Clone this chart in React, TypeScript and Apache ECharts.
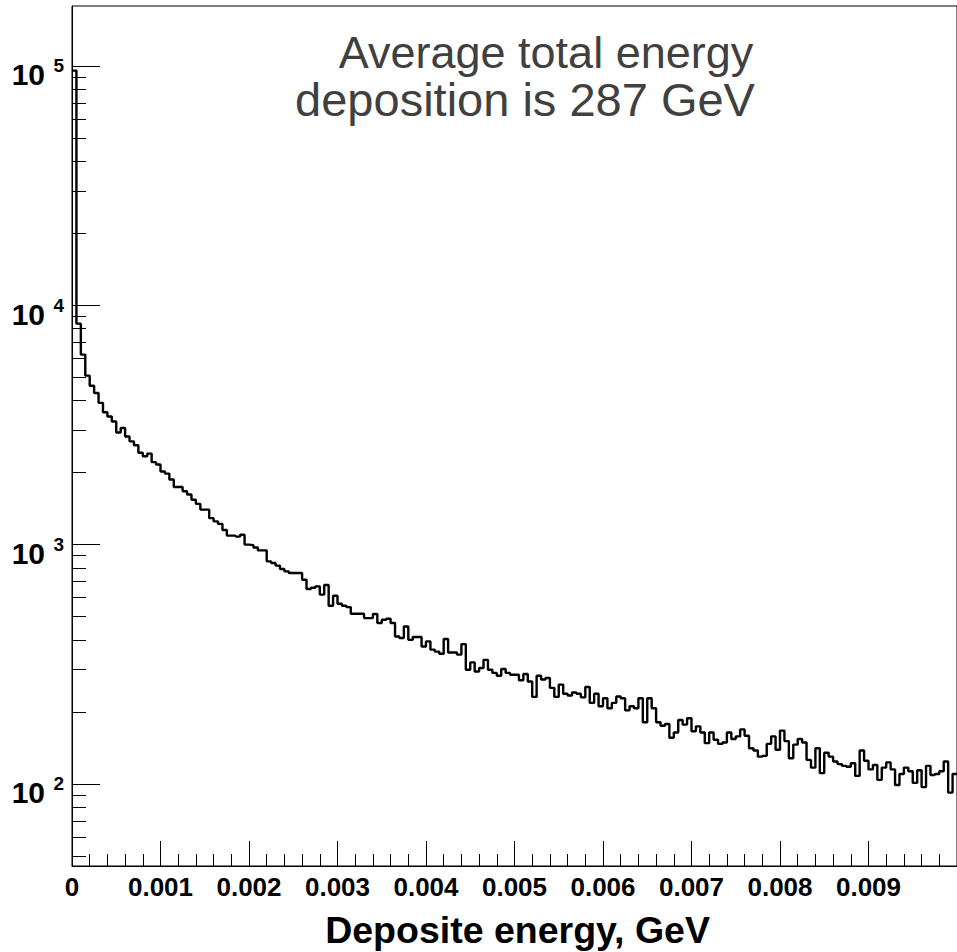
import React, { useEffect, useRef } from 'react';
import * as echarts from 'echarts';

// Histogram: 200 bins of width 0.00005 GeV over [0, 0.01]
const BIN_WIDTH = 0.00005;
const X_MIN = 0;
const X_MAX = 0.01;
const Y_MIN = 45.4;
const Y_MAX = 178000;

const counts: number[] = [
  95600, 8380, 6220, 5080, 4610, 4300, 3910, 3570, 3430, 3270,
  2940, 3070, 2830, 2700, 2600, 2420, 2340, 2400, 2210, 2160,
  2020, 1980, 1870, 1740, 1740, 1670, 1620, 1540, 1480, 1400,
  1400, 1290, 1250, 1220, 1150, 1090, 1090, 1080, 1100, 1000,
  995, 973, 946, 946, 851, 838, 817, 791, 773, 761,
  761, 761, 713, 652, 660, 669, 618, 678, 555, 611,
  566, 555, 548, 514, 514, 514, 493, 493, 513, 470,
  485, 490, 470, 413, 407, 455, 400, 411, 411, 375,
  394, 364, 357, 350, 403, 354, 354, 347, 384, 300,
  322, 295, 305, 330, 300, 291, 283, 302, 291, 286,
  286, 271, 288, 268, 231, 283, 273, 277, 252, 231,
  260, 238, 234, 241, 238, 230, 254, 218, 238, 211,
  228, 207, 218, 232, 228, 203, 211, 207, 228, 181,
  228, 207, 181, 175, 178, 156, 164, 185, 177, 188,
  166, 174, 164, 148, 164, 153, 147, 149, 164, 154,
  158, 169, 159, 141, 138, 130, 131, 147, 158, 139,
  167, 151, 128, 146, 154, 149, 126, 117, 141, 111,
  135, 130, 124, 121, 119, 118, 122, 108, 138, 125,
  115, 120, 104, 117, 123, 115, 99, 110, 117, 113,
  101, 114, 97, 119, 109, 110, 113, 124, 92, 110,
];

const yMajorTicks = [100, 1000, 10000, 100000];
const yMinorTicks = [
  50, 60, 70, 80, 90,
  200, 300, 400, 500, 600, 700, 800, 900,
  2000, 3000, 4000, 5000, 6000, 7000, 8000, 9000,
  20000, 30000, 40000, 50000, 60000, 70000, 80000, 90000,
];

const titleLine1 = 'Average total energy';
const titleLine2 = 'deposition is 287 GeV';
const xAxisTitle = 'Deposite energy, GeV';

const FONT = '"Liberation Sans", Arial, Helvetica, sans-serif';

export default function App() {
  const ref = useRef<HTMLDivElement>(null);

  useEffect(() => {
    if (!ref.current) return;
    const chart = echarts.init(ref.current, undefined, { renderer: 'svg' });

    const data: [number, number][] = counts.map((c, i) => [i * BIN_WIDTH, c]);
    data.push([counts.length * BIN_WIDTH, counts[counts.length - 1]]);

    const yBase = {
      type: 'log',
      logBase: 10,
      min: Y_MIN,
      max: Y_MAX,
      position: 'left',
      splitLine: { show: false },
    };

    const option: any = {
      animation: false,
      backgroundColor: '#ffffff',
      grid: {
        left: 72,
        right: -5,
        top: 6,
        bottom: 86,
        show: true,
        borderColor: '#000',
        borderWidth: 1,
        backgroundColor: 'transparent',
      },
      xAxis: {
        type: 'value',
        min: X_MIN,
        max: X_MAX,
        interval: 0.001,
        axisLine: { show: true, onZero: false, lineStyle: { color: '#000', width: 1 } },
        axisTick: { show: true, inside: true, length: 25, lineStyle: { color: '#000', width: 1 } },
        minorTick: { show: true, splitNumber: 5, length: 12, lineStyle: { color: '#000', width: 1 } },
        axisLabel: {
          show: true,
          margin: 8,
          fontSize: 26,
          fontWeight: 'bold',
          fontFamily: FONT,
          color: '#000',
          showMaxLabel: false,
          formatter: (v: number) => (v === 0 ? '0' : v.toFixed(3)),
        },
        splitLine: { show: false },
        minorSplitLine: { show: false },
      },
      yAxis: [
        {
          ...yBase,
          axisLine: { show: true, lineStyle: { color: '#000', width: 1 } },
          axisTick: { show: true, inside: true, length: 28, customValues: yMajorTicks, lineStyle: { color: '#000', width: 1 } },
          axisLabel: {
            show: true,
            customValues: yMajorTicks,
            margin: 27,
            fontSize: 30,
            fontWeight: 'bold',
            fontFamily: FONT,
            color: '#000',
            verticalAlign: 'top',
            lineHeight: 18,
            formatter: () => '10',
          },
        },
        {
          ...yBase,
          axisLine: { show: false },
          axisTick: { show: true, inside: true, length: 14, customValues: yMinorTicks, lineStyle: { color: '#000', width: 1 } },
          axisLabel: {
            show: true,
            customValues: yMajorTicks,
            margin: 8,
            fontSize: 19,
            fontWeight: 'bold',
            fontFamily: FONT,
            color: '#000',
            verticalAlign: 'middle',
            formatter: (v: number) => String(Math.round(Math.log10(v))),
          },
        },
      ],
      series: [
        {
          type: 'line',
          step: 'end',
          data,
          yAxisIndex: 0,
          showSymbol: false,
          symbol: 'none',
          lineStyle: { color: '#000', width: 2.4 },
          clip: true,
        },
      ],
      graphic: [
        {
          type: 'text',
          x: 546,
          y: 52,
          style: {
            text: titleLine1,
            fontSize: 45,
            fontFamily: FONT,
            fill: '#404040',
            textAlign: 'center',
            textVerticalAlign: 'middle',
            align: 'center',
            verticalAlign: 'middle',
          },
        },
        {
          type: 'text',
          x: 525,
          y: 99,
          style: {
            text: titleLine2,
            fontSize: 47,
            fontFamily: FONT,
            fill: '#404040',
            textAlign: 'center',
            textVerticalAlign: 'middle',
            align: 'center',
            verticalAlign: 'middle',
          },
        },
        {
          type: 'text',
          x: 710,
          y: 930,
          style: {
            text: xAxisTitle,
            fontSize: 37.5,
            fontWeight: 'bold',
            fontFamily: FONT,
            fill: '#000',
            textAlign: 'right',
            textVerticalAlign: 'middle',
            align: 'right',
            verticalAlign: 'middle',
          },
        },
      ],
    };

    chart.setOption(option);
    return () => chart.dispose();
  }, []);

  return (
    <div
      ref={ref}
      style={{ position: 'absolute', left: 0, top: 0, width: 957, height: 952, background: '#fff' }}
    />
  );
}
